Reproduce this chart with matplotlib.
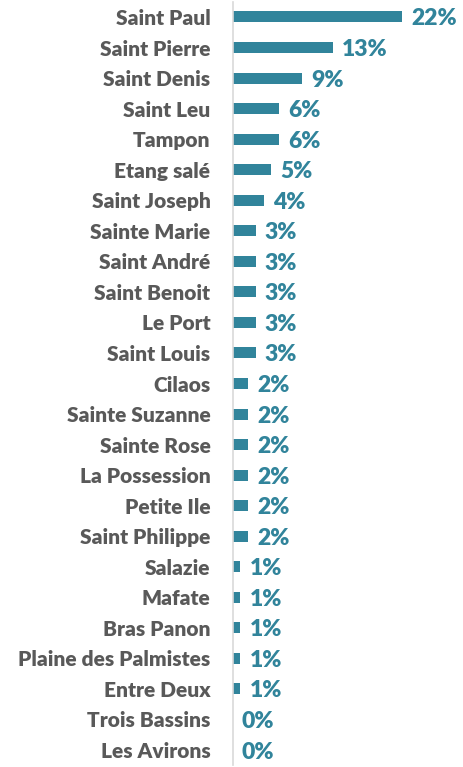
import matplotlib
matplotlib.use("Agg")
import matplotlib.pyplot as plt

categories = ["Saint Paul", "Saint Pierre", "Saint Denis", "Saint Leu", "Tampon",
              "Etang salé", "Saint Joseph", "Sainte Marie", "Saint André", "Saint Benoit",
              "Le Port", "Saint Louis", "Cilaos", "Sainte Suzanne", "Sainte Rose",
              "La Possession", "Petite Ile", "Saint Philippe", "Salazie", "Mafate",
              "Bras Panon", "Plaine des Palmistes", "Entre Deux", "Trois Bassins", "Les Avirons"]
values = [22, 13, 9, 6, 6, 5, 4, 3, 3, 3, 3, 3, 2, 2, 2, 2, 2, 2, 1, 1, 1, 1, 1, 0, 0]
value_labels = [f"{v}%" for v in values]

bar_color = "#31849B"
text_gray = "#595959"

fig = plt.figure(figsize=(4.64, 7.67), dpi=100)
ax = fig.add_axes([232.7 / 464, 1 - 765.3 / 767, (464 - 232.7) / 464, (765.3 - 1.7) / 767])

y = list(range(len(categories)))
ax.barh(y, values, height=0.36, color=bar_color)
ax.set_xlim(0, 30)
ax.set_ylim(len(categories) - 0.5, -0.5)

for yi, v, lab in zip(y, values, value_labels):
    ax.annotate(lab, (v, yi), xytext=(9, -2), textcoords="offset pixels",
                va="center", ha="left", color=bar_color, fontsize=16.5, fontweight="heavy",
                family=["Lato", "DejaVu Sans"])

ax.set_yticks(y)
ax.set_yticklabels(categories, fontsize=15, fontweight="heavy", color=text_gray,
                   family=["Lato", "DejaVu Sans"])
ax.tick_params(axis="y", length=0, pad=16)
ax.set_xticks([])
for s in ["top", "right", "bottom"]:
    ax.spines[s].set_visible(False)
ax.spines["left"].set_color("#D9D9D9")
ax.spines["left"].set_linewidth(1.2)

fig.savefig("out.png", dpi=100)
